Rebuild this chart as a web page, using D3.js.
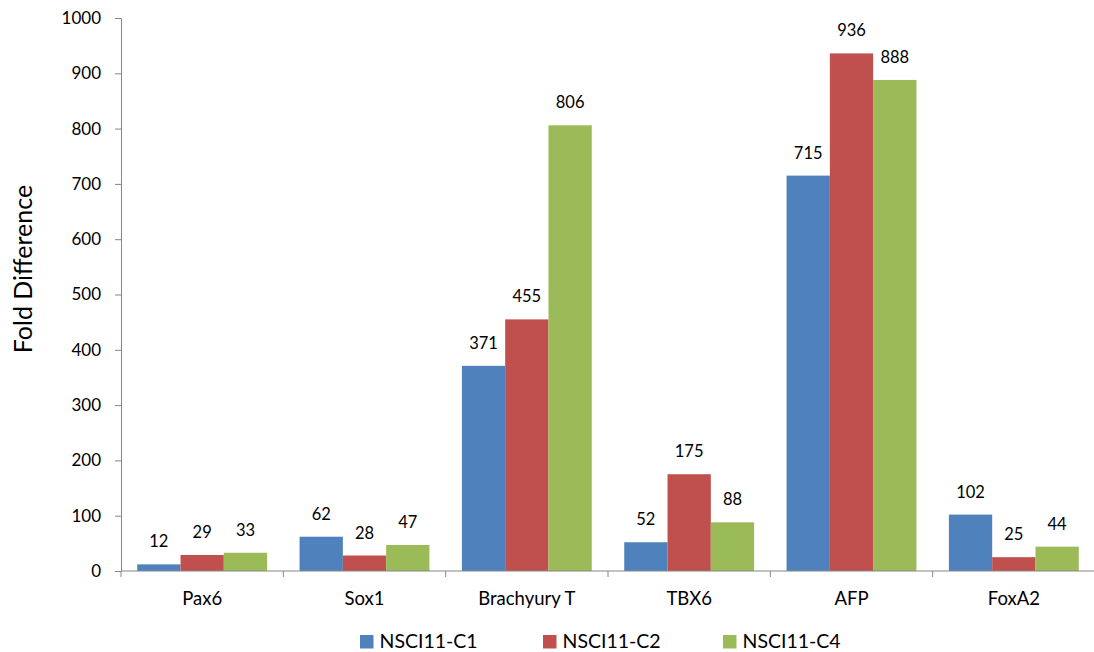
<!DOCTYPE html>
<html><head><meta charset="utf-8">
<script src="https://cdn.jsdelivr.net/npm/d3@7"></script>
<style>body{margin:0;background:#fff}svg{display:block}text{font-family:Lato,"Open Sans",sans-serif;fill:#000}</style>
</head><body>
<svg id="c" width="1094" height="652"></svg>
<script>
const categories = ["Pax6","Sox1","Brachyury T","TBX6","AFP","FoxA2"];
const seriesNames = ["NSCI11-C1","NSCI11-C2","NSCI11-C4"];
const c1 = [12,62,371,52,715,102];
const c2 = [29,28,455,175,936,25];
const c4 = [33,47,806,88,888,44];
const yTicks = [0,100,200,300,400,500,600,700,800,900,1000];
const colors = ["#4F81BD","#C0504D","#9BBB59"];
const series = [c1,c2,c4];

const svg = d3.select("#c");
const mLeft = 121, mRight = 1095, mTop = 18, mBottom = 571;
const x = d3.scaleBand().domain(categories).range([mLeft,mRight]).paddingInner(0.2).paddingOuter(0.1);
const xb = d3.scaleBand().domain(categories).range([mLeft,mRight]);
const xs = d3.scaleBand().domain(seriesNames).range([0,x.bandwidth()]);
const y = d3.scaleLinear().domain([0,1000]).range([mBottom,mTop]);
const axisColor = "#868686";

// bars
categories.forEach((cat,i)=>{
  series.forEach((s,j)=>{
    svg.append("rect").attr("x",x(cat)+xs(seriesNames[j])).attr("y",y(s[i]))
      .attr("width",xs.bandwidth()).attr("height",y(0)-y(s[i])).attr("fill",colors[j]);
    svg.append("text").attr("x",x(cat)+xs(seriesNames[j])+xs.bandwidth()/2).attr("y",y(s[i])-17)
      .attr("text-anchor","middle").attr("font-size",16.5).text(s[i]);
  });
});

// y axis
const ya = svg.append("g").attr("transform",`translate(${mLeft},0)`)
  .call(d3.axisLeft(y).tickValues(yTicks).tickFormat(d3.format("d")).tickSize(6).tickSizeOuter(0).tickPadding(14));
ya.select(".domain").attr("stroke",axisColor);
ya.selectAll(".tick line").attr("stroke",axisColor);
ya.selectAll(".tick text").attr("font-size",17).attr("font-family","Lato,'Open Sans',sans-serif").attr("fill","#000");

// x axis
const xa = svg.append("g").attr("transform",`translate(0,${mBottom})`);
xa.append("line").attr("x1",mLeft).attr("x2",mRight).attr("y1",0).attr("y2",0).attr("stroke",axisColor);
categories.forEach(cat=>{
  xa.append("line").attr("x1",xb(cat)).attr("x2",xb(cat)).attr("y1",0).attr("y2",6).attr("stroke",axisColor);
  xa.append("text").attr("x",xb(cat)+xb.bandwidth()/2).attr("y",34).attr("text-anchor","middle")
    .attr("font-size",18.5).text(cat);
});

// y title
svg.append("text").attr("transform","translate(32,269) rotate(-90)").attr("text-anchor","middle")
  .attr("font-size",25).text("Fold Difference");

// legend
const legX = [360,543,723];
seriesNames.forEach((n,j)=>{
  svg.append("rect").attr("x",legX[j]).attr("y",635).attr("width",13.5).attr("height",13.5).attr("fill",colors[j]);
  svg.append("text").attr("x",legX[j]+19.5).attr("y",648).attr("font-size",19.5).text(n);
});
</script>
</body></html>
